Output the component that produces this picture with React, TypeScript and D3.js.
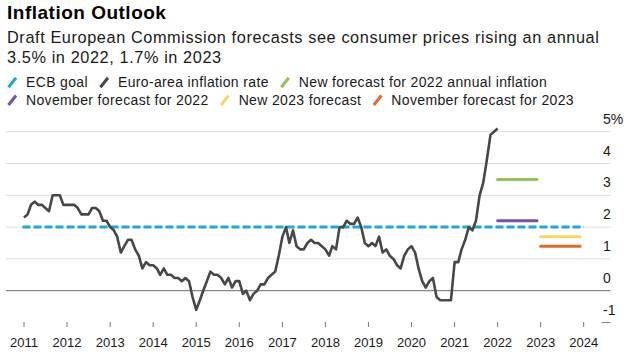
import React, { useRef, useEffect } from "react";
import * as d3 from "d3";

// monthly euro-area HICP, % y/y, starting Jan 2011
const firstMonth = new Date(2011, 0, 1);
const inflationRate = [
  2.3, 2.4, 2.7, 2.8, 2.7, 2.7, 2.6, 2.5, 3.0, 3.0, 3.0, 2.7, // 2011
  2.7, 2.7, 2.7, 2.6, 2.4, 2.4, 2.4, 2.6, 2.6, 2.5, 2.2, 2.2, // 2012
  2.0, 1.9, 1.7, 1.2, 1.4, 1.6, 1.6, 1.3, 1.1, 0.7, 0.9, 0.8, // 2013
  0.8, 0.7, 0.5, 0.7, 0.5, 0.5, 0.4, 0.4, 0.3, 0.4, 0.3, -0.2, // 2014
  -0.6, -0.3, 0.0, 0.3, 0.6, 0.5, 0.5, 0.4, 0.2, 0.4, 0.1, 0.3, // 2015
  0.3, -0.1, 0.0, -0.3, -0.1, 0.0, 0.2, 0.2, 0.4, 0.5, 0.6, 1.1, // 2016
  1.7, 2.0, 1.5, 1.9, 1.4, 1.3, 1.3, 1.5, 1.6, 1.5, 1.5, 1.4, // 2017
  1.3, 1.1, 1.4, 1.3, 2.0, 2.0, 2.2, 2.1, 2.1, 2.3, 2.0, 1.5, // 2018
  1.4, 1.5, 1.4, 1.7, 1.2, 1.3, 1.1, 1.0, 0.8, 0.7, 1.1, 1.3, // 2019
  1.4, 1.2, 0.7, 0.3, 0.1, 0.3, 0.4, -0.2, -0.3, -0.3, -0.3, -0.3, // 2020
  0.9, 0.9, 1.3, 1.6, 2.0, 1.9, 2.2, 3.0, 3.4, 4.1, 4.9, 5.0, // 2021
  5.1, // 2022
];

const ecbGoal = 2;

const forecastKeys = ["new2022", "nov2022", "new2023", "nov2023"];
const forecastYears = [2022, 2022, 2023, 2023];
const forecastValues = [3.5, 2.2, 1.7, 1.4];

const yTicks = [-1, 0, 1, 2, 3, 4, 5];
const xYears = [2011, 2012, 2013, 2014, 2015, 2016, 2017, 2018, 2019, 2020, 2021, 2022, 2023, 2024];

const legendRows = [
  [
    { key: "ecb", label: "ECB goal" },
    { key: "euro", label: "Euro-area inflation rate" },
    { key: "new2022", label: "New forecast for 2022 annual inflation" },
  ],
  [
    { key: "nov2022", label: "November forecast for 2022" },
    { key: "new2023", label: "New 2023 forecast" },
    { key: "nov2023", label: "November forecast for 2023" },
  ],
];

const colors = {
  ecb: "#1ea8d6",
  euro: "#474747",
  new2022: "#8fc456",
  nov2022: "#7b4fa2",
  new2023: "#f6d66a",
  nov2023: "#e06a2e",
};

const W = 628;
const H = 352;
const FONT = "'Liberation Sans', Arial, Helvetica, sans-serif";

export default function App() {
  const svgRef = useRef(null);

  useEffect(() => {
    document.body.style.margin = "0";
    const svg = d3.select(svgRef.current);
    svg.selectAll("*").remove();

    const x = d3
      .scaleTime()
      .domain([new Date(2011, 0, 1), new Date(2024, 0, 1)])
      .range([24, 583.7]);
    const y = d3.scaleLinear().domain([-1, 5]).range([322.5, 131.7]);

    // title + subtitle
    svg
      .append("text")
      .attr("x", 7)
      .attr("y", 18.5)
      .attr("font-family", FONT)
      .attr("font-weight", "bold")
      .attr("font-size", 19)
      .attr("letter-spacing", 0.5)
      .attr("fill", "#000")
      .text("Inflation Outlook");

    const sub = [
      "Draft European Commission forecasts see consumer prices rising an annual",
      "3.5% in 2022, 1.7% in 2023",
    ];
    sub.forEach((s, i) =>
      svg
        .append("text")
        .attr("x", 7)
        .attr("y", 42.7 + i * 20.6)
        .attr("font-family", FONT)
        .attr("font-size", 16.3)
        .attr("letter-spacing", 0.6)
        .attr("fill", "#1a1a1a")
        .text(s)
    );

    // legend
    legendRows.forEach((row, ri) => {
      const base = 87.3 + ri * 17.7;
      let cx = 7;
      row.forEach((item) => {
        svg
          .append("line")
          .attr("x1", cx + 1.5)
          .attr("y1", base)
          .attr("x2", cx + 9)
          .attr("y2", base - 9.5)
          .attr("stroke", colors[item.key])
          .attr("stroke-width", 3);
        const t = svg
          .append("text")
          .attr("x", cx + 19)
          .attr("y", base)
          .attr("font-family", FONT)
          .attr("font-size", 14)
          .attr("letter-spacing", 0.35)
          .attr("fill", "#1a1a1a")
          .text(item.label);
        const w = (t.node() as SVGTextElement).getComputedTextLength();
        cx = cx + 19 + w + 11;
      });
    });

    // grid + y labels
    const grid = svg.append("g");
    yTicks.forEach((v) => {
      if (v >= 0) {
        grid
          .append("line")
          .attr("x1", 6)
          .attr("x2", 610.5)
          .attr("y1", y(v))
          .attr("y2", y(v))
          .attr("stroke", v === 0 ? "#6b6b6b" : "#dedede")
          .attr("stroke-width", 1);
      } else {
        grid
          .append("line")
          .attr("x1", 601.5)
          .attr("x2", 610.5)
          .attr("y1", y(v))
          .attr("y2", y(v))
          .attr("stroke", "#888")
          .attr("stroke-width", 1);
      }
      grid
        .append("text")
        .attr("x", 603)
        .attr("y", y(v) - 8)
        .attr("font-family", FONT)
        .attr("font-size", 14)
        .attr("fill", "#1a1a1a")
        .text(v === 5 ? "5%" : String(v));
    });

    // x axis ticks + labels
    const xa = svg.append("g");
    xYears.forEach((yr) => {
      const px = x(new Date(yr, 0, 1));
      xa.append("line")
        .attr("x1", px)
        .attr("x2", px)
        .attr("y1", 322)
        .attr("y2", 327)
        .attr("stroke", "#777")
        .attr("stroke-width", 1);
      xa.append("text")
        .attr("x", px)
        .attr("y", 346.5)
        .attr("text-anchor", "middle")
        .attr("font-family", FONT)
        .attr("font-size", 13)
        .attr("fill", "#1a1a1a")
        .text(String(yr));
    });

    // ECB goal
    svg
      .append("line")
      .attr("x1", x(new Date(2011, 0, 1)) - 1.5)
      .attr("x2", x(new Date(2024, 0, 1)))
      .attr("y1", y(ecbGoal))
      .attr("y2", y(ecbGoal))
      .attr("stroke", colors.ecb)
      .attr("stroke-width", 3)
      .attr("stroke-dasharray", "8,3");

    // forecasts
    forecastKeys.forEach((k, i) => {
      svg
        .append("line")
        .attr("x1", x(new Date(forecastYears[i], 0, 1)))
        .attr("x2", x(new Date(forecastYears[i], 11, 1)))
        .attr("y1", y(forecastValues[i]))
        .attr("y2", y(forecastValues[i]))
        .attr("stroke", colors[k])
        .attr("stroke-width", 3)
        .attr("stroke-linecap", "round");
    });

    // inflation line
    const series = inflationRate.map((v, i) => ({
      date: d3.timeMonth.offset(firstMonth, i),
      value: v,
    }));
    const line = d3
      .line<{ date: Date; value: number }>()
      .x((d) => x(d.date))
      .y((d) => y(d.value));
    svg
      .append("path")
      .datum(series)
      .attr("d", line)
      .attr("fill", "none")
      .attr("stroke", colors.euro)
      .attr("stroke-width", 2.6)
      .attr("stroke-linejoin", "round");
  }, []);

  return (
    <svg
      ref={svgRef}
      width={W}
      height={H}
      style={{ position: "absolute", left: 0, top: 0, background: "#fff", display: "block" }}
    />
  );
}
